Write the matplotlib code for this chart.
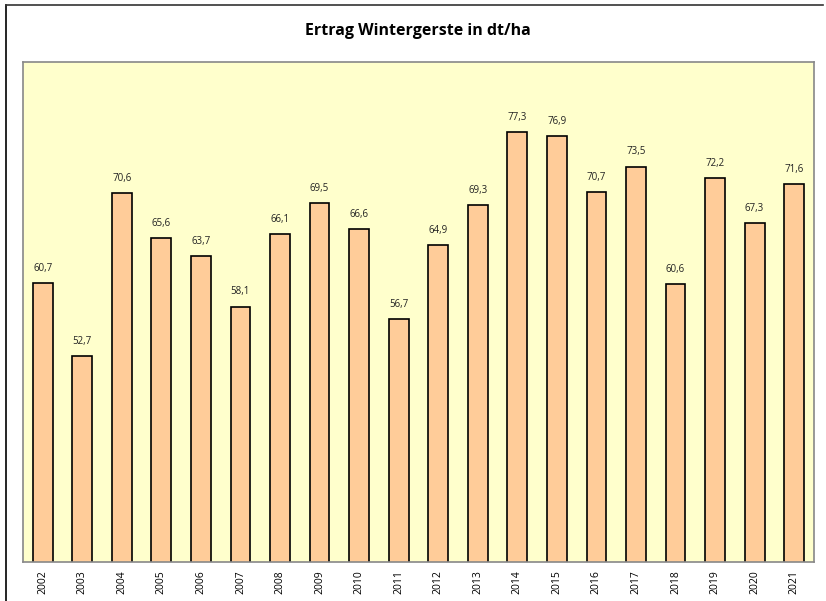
import matplotlib.pyplot as plt
from matplotlib.lines import Line2D

years = ["2002", "2003", "2004", "2005", "2006", "2007", "2008", "2009", "2010", "2011",
         "2012", "2013", "2014", "2015", "2016", "2017", "2018", "2019", "2020", "2021"]
ertrag = [60.7, 52.7, 70.6, 65.6, 63.7, 58.1, 66.1, 69.5, 66.6, 56.7,
          64.9, 69.3, 77.3, 76.9, 70.7, 73.5, 60.6, 72.2, 67.3, 71.6]

plt.rcParams['font.family'] = ['Open Sans', 'DejaVu Sans']

fig = plt.figure(figsize=(8.26, 6.01), dpi=100)
ax = fig.add_axes([0.0278, 0.0649, 0.9576, 0.832])
ax.set_facecolor("#FFFFCC")

x = range(len(years))
ax.bar(x, ertrag, width=0.5, color="#FFCC99", edgecolor="black", linewidth=1.2)

for i, v in enumerate(ertrag):
    ax.text(i, v + 1.0, f"{v:.1f}".replace(".", ","), ha="center", va="bottom",
            fontsize=7, color="#222222")

ax.set_ylim(30, 85)
ax.set_xlim(-0.5, len(years) - 0.5)
ax.set_yticks([])
ax.set_xticks(list(x))
ax.set_xticklabels(years, rotation=90, fontsize=7.5)
ax.tick_params(axis="x", length=0, pad=6)
for s in ax.spines.values():
    s.set_color("#888888")
    s.set_linewidth(1.2)

fig.text(0.506, 0.948, "Ertrag Wintergerste in dt/ha", ha="center", va="center",
         fontsize=11.5, fontweight="bold")

# outer frame (left and top edges visible)
fig.add_artist(Line2D([0.0067, 0.0067], [0, 0.9917], transform=fig.transFigure,
                      color="black", linewidth=1.2))
fig.add_artist(Line2D([0.0067, 0.996], [0.9917, 0.9917], transform=fig.transFigure,
                      color="#333333", linewidth=1.2))

fig.savefig("out.png", dpi=100)
